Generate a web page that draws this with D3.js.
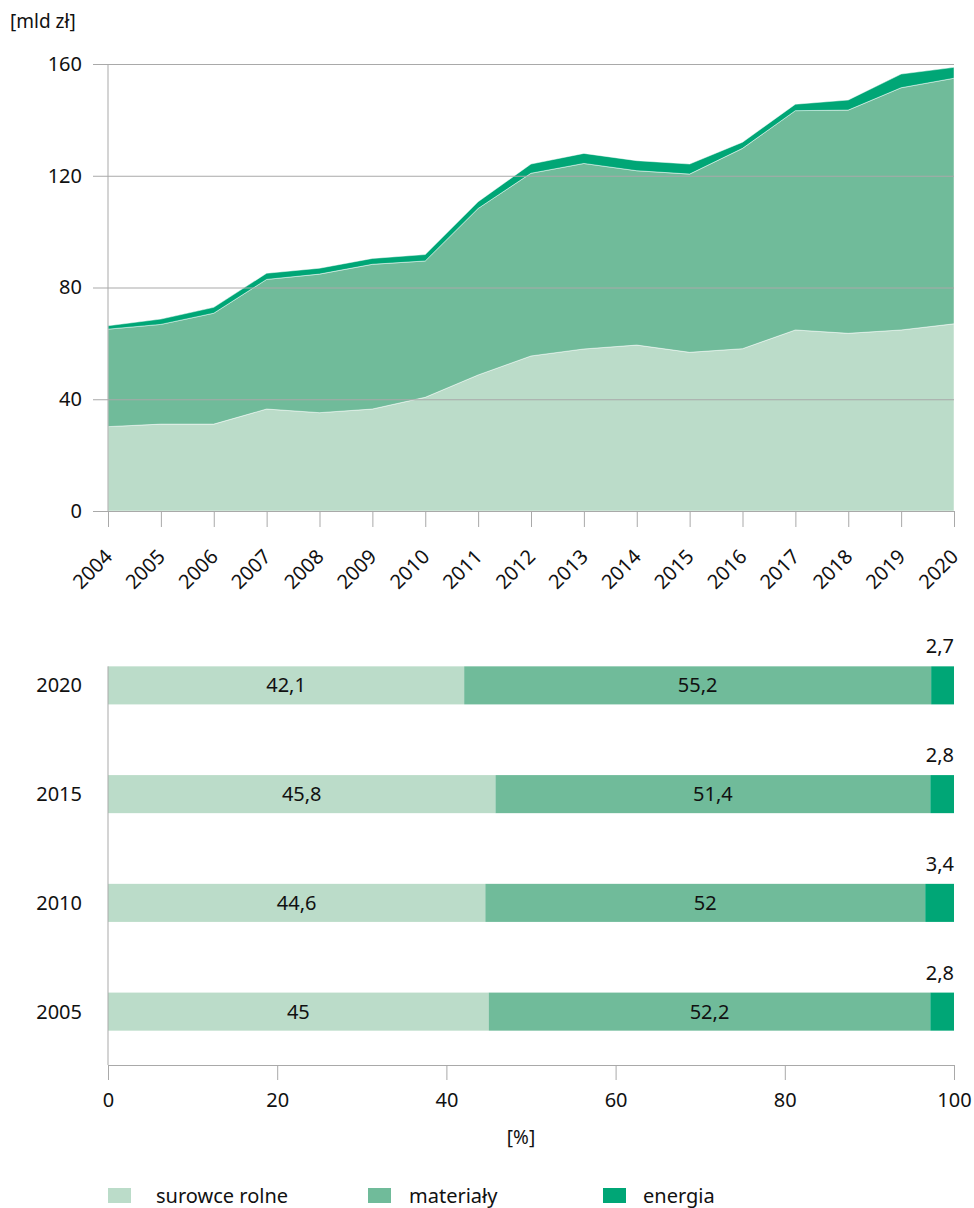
<!DOCTYPE html>
<html>
<head>
<meta charset="utf-8">
<script src="https://cdn.jsdelivr.net/npm/d3@7"></script>
<style>
  body { margin: 0; background: #fff; }
  text { font-family: "Noto Sans", sans-serif; fill: #111; }
</style>
</head>
<body>
<div id="chart"></div>
<script>
// top chart: values in mld zl
var years = [2004, 2005, 2006, 2007, 2008, 2009, 2010, 2011, 2012, 2013, 2014, 2015, 2016, 2017, 2018, 2019, 2020];
var surowce = [30.2, 31.1, 31.1, 36.5, 35.2, 36.5, 40.7, 48.7, 55.5, 58.0, 59.4, 56.8, 58.1, 64.8, 63.6, 64.8, 67.0];
var materialy = [34.9, 35.7, 39.7, 46.4, 49.6, 51.8, 48.8, 59.6, 65.4, 66.4, 62.4, 63.8, 71.7, 78.5, 79.9, 86.7, 87.9];
var energia = [1.2, 1.9, 2.1, 2.2, 2.1, 2.1, 2.3, 2.4, 3.3, 3.6, 3.6, 3.6, 2.2, 2.3, 3.6, 4.9, 3.9];
var yTicks = [0, 40, 80, 120, 160];

// bottom chart: shares in %
var shareYears = ["2020", "2015", "2010", "2005"];
var shareSurowce = [42.1, 45.8, 44.6, 45];
var shareMaterialy = [55.2, 51.4, 52, 52.2];
var shareEnergia = [2.7, 2.8, 3.4, 2.8];
var xTicks = [0, 20, 40, 60, 80, 100];

var seriesNames = ["surowce rolne", "materiały", "energia"];
var keys = ["surowce", "materialy", "energia"];
var colors = ["#bbdcc9", "#70bb9a", "#00a676"];
var gridColor = "#a9a9a9";

var width = 974, height = 1208;
var svg = d3.select("#chart").append("svg")
    .attr("width", width)
    .attr("height", height);

var fmt = function(v) { return String(v).replace(".", ","); };

//----- TOP: stacked area
var x = d3.scaleLinear().domain([2004, 2020]).range([108, 954]);
var y = d3.scaleLinear().domain([0, 160]).range([511, 64]);

var rows = years.map(function(yr, i) {
    return {year: yr, surowce: surowce[i], materialy: materialy[i], energia: energia[i]};
});
var stacked = d3.stack().keys(keys)(rows);

var area = d3.area()
    .x(function(d) { return x(d.data.year); })
    .y0(function(d) { return y(d[0]); })
    .y1(function(d) { return y(d[1]); });

svg.append("g").attr("class", "areas")
  .selectAll("path")
    .data(stacked)
    .enter().append("path")
      .attr("d", area)
      .style("fill", function(d, i) { return colors[i]; })
      .style("stroke", "#fff")
      .style("stroke-opacity", 0.6)
      .style("stroke-width", 0.8);

// grid + y labels
var yAxis = svg.append("g")
    .attr("transform", "translate(93,0)")
    .call(d3.axisLeft(y).tickValues(yTicks).tickSize(-(954 - 93)).tickPadding(11));
yAxis.select(".domain").remove();
yAxis.selectAll("line").style("stroke", gridColor);
yAxis.selectAll("text").style("font-size", "20px").style("font-family", null);

svg.append("line")
    .attr("x1", 108).attr("x2", 108)
    .attr("y1", 64).attr("y2", 511)
    .style("stroke", gridColor);

var xAxis = svg.append("g")
    .attr("transform", "translate(0,511)")
    .call(d3.axisBottom(x).tickValues(years).tickFormat(d3.format("d")).tickSize(16));
xAxis.select(".domain").remove();
xAxis.selectAll("line").style("stroke", gridColor);
xAxis.selectAll("text")
    .attr("x", 0).attr("y", 0).attr("dy", 0)
    .attr("transform", "translate(5,47) rotate(-45)")
    .style("text-anchor", "end")
    .style("font-size", "20px")
    .style("font-family", null);

svg.append("text")
    .attr("x", 10).attr("y", 28)
    .style("font-size", "19px")
    .text("[mld zł]");

//----- BOTTOM: 100% stacked bars
var xs = d3.scaleLinear().domain([0, 100]).range([108, 954]);
var ys = d3.scaleBand().domain(shareYears).range([631, 1066]).paddingInner(0.65).paddingOuter(0.325);

var shareRows = shareYears.map(function(yr, i) {
    return {year: yr, surowce: shareSurowce[i], materialy: shareMaterialy[i], energia: shareEnergia[i]};
});
var shareStack = d3.stack().keys(keys)(shareRows);

var layers = svg.append("g").attr("class", "bars")
  .selectAll("g")
    .data(shareStack)
    .enter().append("g")
      .style("fill", function(d, i) { return colors[i]; });

layers.selectAll("rect")
    .data(function(d) { return d; })
    .enter().append("rect")
      .attr("x", function(d) { return xs(d[0]); })
      .attr("y", function(d) { return ys(d.data.year); })
      .attr("width", function(d) { return xs(d[1]) - xs(d[0]); })
      .attr("height", ys.bandwidth());

// labels inside (first two series), above bar for energia
layers.filter(function(d, i) { return i < 2; })
  .selectAll("text")
    .data(function(d) { return d.map(function(p) { p.key = d.key; return p; }); })
    .enter().append("text")
      .attr("x", function(d) { return xs((d[0] + d[1]) / 2); })
      .attr("y", function(d) { return ys(d.data.year) + ys.bandwidth() / 2; })
      .attr("dy", "0.35em")
      .style("text-anchor", "middle")
      .style("font-size", "20px")
      .text(function(d) { return fmt(d.data[d.key]); });

svg.append("g").selectAll("text")
    .data(shareRows)
    .enter().append("text")
      .attr("x", xs(100))
      .attr("y", function(d) { return ys(d.year) - 13; })
      .style("text-anchor", "end")
      .style("font-size", "20px")
      .text(function(d) { return fmt(d.energia); });

svg.append("g").selectAll("text")
    .data(shareYears)
    .enter().append("text")
      .attr("x", 82)
      .attr("y", function(d) { return ys(d) + ys.bandwidth() / 2; })
      .attr("dy", "0.35em")
      .style("text-anchor", "end")
      .style("font-size", "20px")
      .text(function(d) { return d; });

svg.append("line")
    .attr("x1", 108).attr("x2", 108)
    .attr("y1", ys(shareYears[0])).attr("y2", 1065)
    .style("stroke", gridColor);

var xsAxis = svg.append("g")
    .attr("transform", "translate(0,1065)")
    .call(d3.axisBottom(xs).tickValues(xTicks).tickSize(15).tickSizeOuter(0).tickPadding(13));
xsAxis.select(".domain").style("stroke", gridColor);
xsAxis.selectAll("line").style("stroke", gridColor);
xsAxis.selectAll("text").style("font-size", "20px").style("font-family", null);

svg.append("text")
    .attr("x", 521).attr("y", 1144)
    .style("text-anchor", "middle")
    .style("font-size", "19px")
    .text("[%]");

// legend
var legendX = [108, 368, 603];
var legendTextX = [156, 409, 643];
var legend = svg.append("g").selectAll("g")
    .data(seriesNames)
    .enter().append("g");
legend.append("rect")
    .attr("x", function(d, i) { return legendX[i]; })
    .attr("y", 1188)
    .attr("width", 23)
    .attr("height", 15)
    .style("fill", function(d, i) { return colors[i]; });
legend.append("text")
    .attr("x", function(d, i) { return legendTextX[i]; })
    .attr("y", 1203)
    .style("font-size", "20px")
    .text(function(d) { return d; });
</script>
</body>
</html>
